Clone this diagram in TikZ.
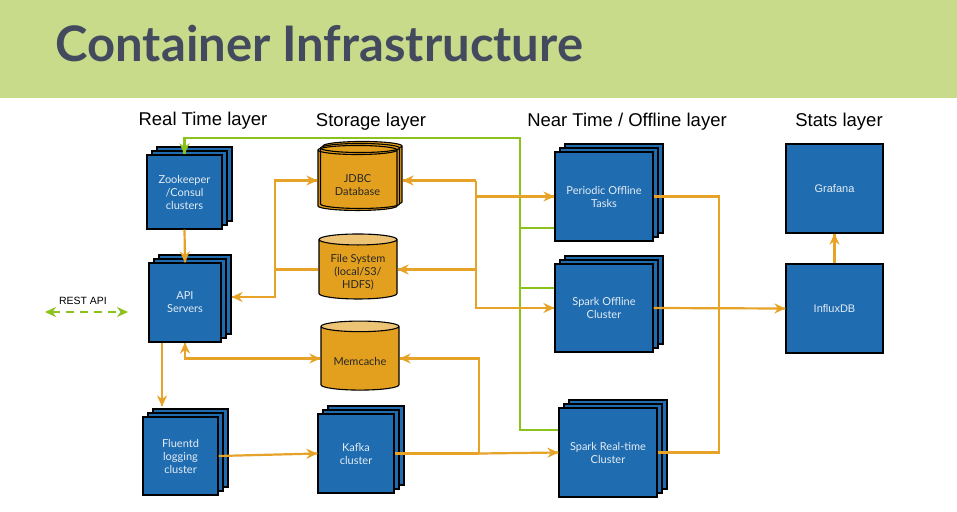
\documentclass[tikz,border=0pt]{standalone}
\usepackage{fontspec}
\setmainfont{Lato}
\newfontfamily\arialfont{Liberation Sans}
\usepackage{xcolor}
\definecolor{boxblue}{RGB}{31,109,176}
\definecolor{boxtext}{RGB}{228,236,245}
\definecolor{cylorange}{RGB}{227,160,30}
\definecolor{cyltop}{RGB}{237,196,118}
\definecolor{lorange}{RGB}{230,163,40}
\definecolor{lgreen}{RGB}{140,194,30}
\definecolor{headgreen}{RGB}{200,219,139}
\definecolor{titlegray}{RGB}{67,74,94}
\usetikzlibrary{shapes.geometric, shadows, arrows.meta, decorations.markings}
\newcommand{\boxfont}{\fontsize{11}{13}\selectfont}
% text of a cylinder sits a little below its middle
\newcommand{\cyltext}[2][4pt]{\raisebox{-#1}[\height][\depth]{\begin{tabular}{@{}c@{}}#2\end{tabular}}}
\tikzstyle{Arrow} = [
line width=2.2pt,
lorange,
decoration={
markings,
mark=at position 0.9999 with {
\arrow[lorange]{Stealth[length=11pt,width=10pt,inset=3.5pt]}}},
preaction = {decorate}]
\tikzstyle{ArrowBoth} = [
line width=2.2pt,
lorange,
decoration={
markings,
mark=at position 0 with {
\arrowreversed[lorange]{Stealth[length=11pt,width=10pt,inset=3.5pt]}},
mark=at position 0.9999 with {
\arrow[lorange]{Stealth[length=11pt,width=10pt,inset=3.5pt]}}},
preaction = {decorate}]
\tikzstyle{Line} = [line width=2.2pt, lorange]
\tikzstyle{ArrowGreen} = [
line width=2.2pt,
lgreen,
decoration={
markings,
mark=at position 0.9999 with {
\arrow[lgreen]{Stealth[length=11pt,width=10pt,inset=3.5pt]}}},
preaction = {decorate}]
\tikzstyle{LineGreen} = [line width=2.2pt, lgreen]
\tikzset{
  bluebox/.style={draw=black, line width=1.1pt, fill=boxblue, text=boxtext,
    align=center, font=\boxfont, inner sep=0pt},
  stackbox/.style={bluebox, double copy shadow={shadow xshift=5pt, shadow yshift=4pt,
    draw=black, fill=boxblue, line width=1.1pt}},
  storecyl/.style={cylinder, shape border rotate=90, draw=black, line width=1.1pt,
    aspect=0.2, cylinder uses custom fill, cylinder body fill=cylorange,
    cylinder end fill=cyltop, font=\boxfont, text=black!85, align=center, inner sep=0pt},
  layerlabel/.style={anchor=base, font=\arialfont\fontsize{18.5}{20}\selectfont}
}
\begin{document}
\begin{tikzpicture}[x=1pt, y=-1pt]
    \useasboundingbox (0,0) rectangle (957,511);
    \fill[white] (0,0) rectangle (957,511);
    % header
    \fill[headgreen] (0,0) rectangle (957,98);
    \node[anchor=base west, text=titlegray, font=\fontsize{49}{52}\selectfont\bfseries] (title) at (52,62) {Container Infrastructure};

    % layer titles
    \node[layerlabel] (rtlayer) at (203,125) {Real Time layer};
    \node[layerlabel] (storelayer) at (371,126) {Storage layer};
    \node[layerlabel] (nearlayer) at (627,126) {Near Time / Offline layer};
    \node[layerlabel] (statslayer) at (839,126) {Stats layer};

    % real time layer
    \node[stackbox, minimum width=75pt, minimum height=74pt] (zk) at (184.5,192) {Zookeeper\\/Consul\\clusters};
    \node[stackbox, minimum width=72pt, minimum height=79pt] (api) at (185,302.5) {API\\Servers};
    \node[stackbox, minimum width=75pt, minimum height=78pt] (fluentd) at (180.5,456) {Fluentd\\logging\\cluster};
    \node[font=\arialfont\fontsize{10.5}{12}\selectfont] (rest) at (83,301) {REST API};
    \coordinate (restl) at (45,312);
    \coordinate (restr) at (128,312);

    % storage layer
    \node[storecyl, minimum width=79pt, minimum height=65pt,
      double copy shadow={shadow xshift=2.5pt, shadow yshift=2pt, draw=black, fill=cylorange, line width=1.1pt}] (jdbc) at (357.5,180.5) {\cyltext[6pt]{JDBC\\Database}};
    \node[storecyl, minimum width=78pt, minimum height=65pt] (fs) at (358,269.5) {\cyltext[3.5pt]{File System\\(local/S3/\\HDFS)}};
    \node[storecyl, minimum width=78pt, minimum height=69pt] (memcache) at (360,358.5) {\cyltext[4.5pt]{Memcache}};
    \node[stackbox, minimum width=76pt, minimum height=79pt] (kafka) at (356,453.5) {Kafka\\cluster};

    % near time / offline layer
    \node[stackbox, minimum width=98pt, minimum height=89pt] (periodic) at (604,196.5) {Periodic Offline\\Tasks};
    \node[stackbox, minimum width=98pt, minimum height=88pt] (sparkoff) at (604,308) {Spark Offline\\Cluster};
    \node[stackbox, minimum width=98pt, minimum height=89pt] (sparkrt) at (608,452.5) {Spark Real-time\\Cluster};

    % stats layer
    \node[bluebox, font=\arialfont\fontsize{11}{13}\selectfont, minimum width=97pt, minimum height=89pt] (grafana) at (834.5,188.5) {Grafana};
    \node[bluebox, font=\arialfont\fontsize{11}{13}\selectfont, minimum width=97pt, minimum height=89pt] (influx) at (834.5,308.5) {InfluxDB};

    % bus coordinates
    \coordinate (gbus) at (520,138);
    \coordinate (obus) at (476,0);
    \coordinate (kbus) at (479,0);
    \coordinate (sbus) at (275,0);
    \coordinate (rbus) at (719,0);
    \coordinate (gper) at ([yshift=-31.5pt]periodic.west);
    \coordinate (goff) at ([yshift=20pt]sparkoff.west);
    \coordinate (grt) at ([yshift=22.5pt]sparkrt.west);
    \coordinate (apiin) at ([xshift=10pt,yshift=5.5pt]api.east);
    \coordinate (apibot) at ([xshift=-23pt]api.south);
    \coordinate (fltop) at ([yshift=10pt]fluentd.north);
    \coordinate (jdbcin) at ([xshift=5pt]jdbc.east);

    % green control lines
    \draw[ArrowGreen] (grt) -| (gbus) -| (zk.north);
    \draw[LineGreen] (gper) -- (gper -| gbus);
    \draw[LineGreen] (goff) -- (goff -| gbus);
    \draw[lgreen, line width=2.2pt, dashed, dash pattern=on 8pt off 6pt,
      {Stealth[length=11pt,width=10pt,inset=3.5pt]}-{Stealth[length=11pt,width=10pt,inset=3.5pt]}] (restl) -- (restr);

    % orange data lines
    \draw[Arrow] (zk.south) -- (api.north);
    \draw[Arrow] (apibot) -- (apibot |- fltop);
    \draw[Line] (fs.west) -- (fs.west -| sbus);
    \draw[Arrow] (fs.west -| sbus) |- (jdbc.west);
    \draw[Arrow] (fs.west -| sbus) |- (apiin);
    \draw[ArrowBoth] (api.south) |- (memcache.west);
    \draw[Arrow] (fluentd.east) -- (kafka.west);
    \draw[Line] (kafka.east) -- (kafka.east -| kbus);
    \draw[Arrow] (kafka.east -| kbus) -- (sparkrt.west);
    \draw[Arrow] (kafka.east -| kbus) |- (memcache.east);
    \draw[Arrow] (jdbc.east -| obus) -- (jdbcin);
    \draw[Arrow] (jdbc.east -| obus) |- (periodic.west);
    \draw[Arrow] (jdbc.east -| obus) |- (sparkoff.west);
    \draw[Arrow] (fs.east -| obus) -- (fs.east);
    \draw[Line] (periodic.east) -| (sparkoff.east -| rbus);
    \draw[Line] (sparkrt.east) -| (sparkoff.east -| rbus);
    \draw[Arrow] (sparkoff.east) -- (influx.west);
    \draw[Arrow] (influx.north) -- (grafana.south);
\end{tikzpicture}
\end{document}
